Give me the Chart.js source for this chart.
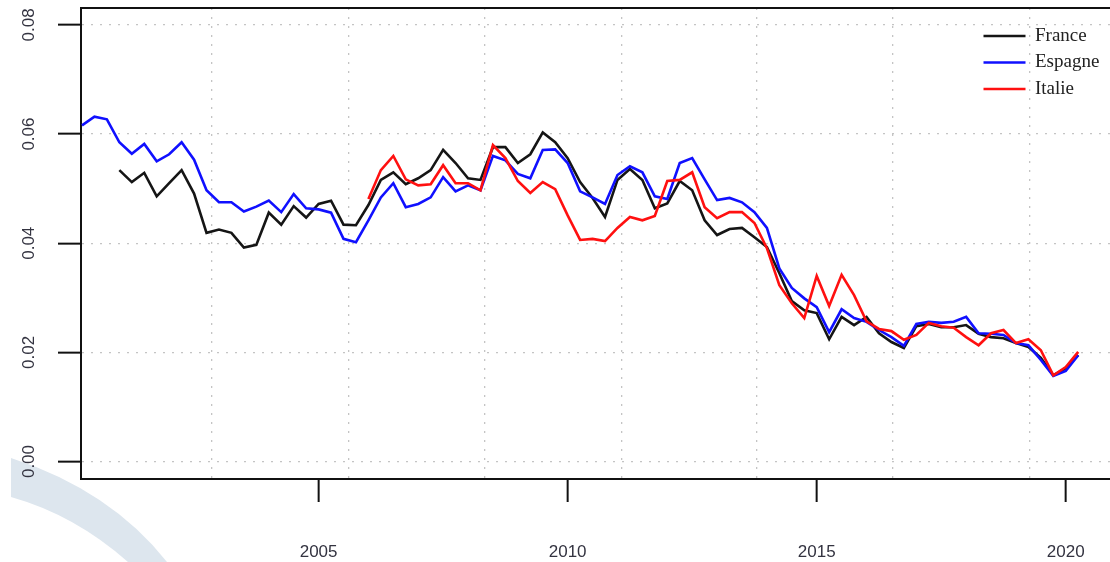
<!DOCTYPE html>
<html>
<head>
<meta charset="utf-8">
<script src="https://cdn.jsdelivr.net/npm/chart.js@4.4.1/dist/chart.umd.min.js"></script>
<style>
  html, body { margin: 0; padding: 0; background: #ffffff; }
  #wrap { width: 1110px; height: 562px; }
</style>
</head>
<body>
<div id="wrap"><canvas id="c" width="1110" height="562"></canvas></div>
<script>
// ---- data (quarterly, decimal years) ----
const dates = [
  2000.25, 2000.5, 2000.75,
  2001, 2001.25, 2001.5, 2001.75,
  2002, 2002.25, 2002.5, 2002.75,
  2003, 2003.25, 2003.5, 2003.75,
  2004, 2004.25, 2004.5, 2004.75,
  2005, 2005.25, 2005.5, 2005.75,
  2006, 2006.25, 2006.5, 2006.75,
  2007, 2007.25, 2007.5, 2007.75,
  2008, 2008.25, 2008.5, 2008.75,
  2009, 2009.25, 2009.5, 2009.75,
  2010, 2010.25, 2010.5, 2010.75,
  2011, 2011.25, 2011.5, 2011.75,
  2012, 2012.25, 2012.5, 2012.75,
  2013, 2013.25, 2013.5, 2013.75,
  2014, 2014.25, 2014.5, 2014.75,
  2015, 2015.25, 2015.5, 2015.75,
  2016, 2016.25, 2016.5, 2016.75,
  2017, 2017.25, 2017.5, 2017.75,
  2018, 2018.25, 2018.5, 2018.75,
  2019, 2019.25, 2019.5, 2019.75,
  2020, 2020.25
];

const france = [
  null, null, null,
  0.0534, 0.0512, 0.0529, 0.0486,
  0.0510, 0.0534, 0.0491, 0.0419,
  0.0425, 0.0419, 0.0392, 0.0397,
  0.0456, 0.0434, 0.0468, 0.0447,
  0.0472, 0.0478, 0.0434, 0.0433,
  0.0470, 0.0516, 0.0530, 0.0508,
  0.0519, 0.0534, 0.0571, 0.0547,
  0.0519, 0.0516, 0.0576, 0.0576,
  0.0547, 0.0563, 0.0603, 0.0585,
  0.0556, 0.0512, 0.0483, 0.0448,
  0.0516, 0.0536, 0.0516, 0.0464,
  0.0473, 0.0514, 0.0497, 0.0442,
  0.0415, 0.0426, 0.0428, 0.0411,
  0.0393, 0.0345, 0.0294, 0.0277,
  0.0272, 0.0224, 0.0265, 0.0250,
  0.0265, 0.0235, 0.0219, 0.0208,
  0.0248, 0.0252, 0.0246, 0.0246,
  0.0250, 0.0234, 0.0228, 0.0226,
  0.0217, 0.0210, 0.0190, 0.0158,
  0.0171, 0.0195
];

const espagne = [
  0.0616, 0.0632, 0.0627,
  0.0585, 0.0564, 0.0582, 0.0550,
  0.0563, 0.0585, 0.0553, 0.0497,
  0.0475, 0.0475, 0.0458, 0.0467,
  0.0478, 0.0457, 0.0490, 0.0464,
  0.0462, 0.0456, 0.0408, 0.0402,
  0.0442, 0.0484, 0.0510, 0.0466,
  0.0472, 0.0484, 0.0521, 0.0495,
  0.0506, 0.0497, 0.0560, 0.0552,
  0.0527, 0.0519, 0.0571, 0.0572,
  0.0547, 0.0495, 0.0484, 0.0472,
  0.0525, 0.0541, 0.0530, 0.0486,
  0.0481, 0.0547, 0.0556, 0.0517,
  0.0479, 0.0483, 0.0475, 0.0457,
  0.0428, 0.0354, 0.0318, 0.0299,
  0.0283, 0.0237, 0.0279, 0.0263,
  0.0256, 0.0241, 0.0228, 0.0212,
  0.0252, 0.0256, 0.0254, 0.0256,
  0.0265, 0.0235, 0.0234, 0.0232,
  0.0217, 0.0213, 0.0186, 0.0157,
  0.0166, 0.0195
];

const italie = [
  null, null, null,
  null, null, null, null,
  null, null, null, null,
  null, null, null, null,
  null, null, null, null,
  null, null, null, null,
  0.0481, 0.0534, 0.0560, 0.0517,
  0.0506, 0.0508, 0.0543, 0.0510,
  0.0510, 0.0497, 0.0580, 0.0556,
  0.0514, 0.0492, 0.0512, 0.0499,
  0.0451, 0.0406, 0.0408, 0.0404,
  0.0428, 0.0448, 0.0442, 0.0450,
  0.0514, 0.0516, 0.0530, 0.0466,
  0.0446, 0.0457, 0.0457, 0.0437,
  0.0391, 0.0323, 0.0290, 0.0263,
  0.0340, 0.0285, 0.0342, 0.0305,
  0.0257, 0.0243, 0.0239, 0.0223,
  0.0232, 0.0254, 0.0248, 0.0245,
  0.0228, 0.0213, 0.0235, 0.0241,
  0.0217, 0.0224, 0.0204, 0.0158,
  0.0173, 0.0201
];

const seriesNames = ['France', 'Espagne', 'Italie'];
const xTickYears = [2005, 2010, 2015, 2020];
const xGridYears = [2002.86, 2005.611, 2008.341, 2011.091, 2013.801, 2016.532, 2019.282];
const yTicks = [0, 0.02, 0.04, 0.06, 0.08];

// ---- styles ----
const axisColor = '#111111';
const gridColor = '#c4c4c4';
const labelColor = '#333340';
const tickFont = { family: "'Liberation Sans Narrow', 'Liberation Sans', Arial, sans-serif", size: 17 };
const legendFont = { family: "'Liberation Serif', 'Times New Roman', serif", size: 19 };

function toPoints(vals) {
  return dates.map((d, i) => ({ x: d, y: vals[i] }));
}

function noScalePadding(scale) {
  scale.paddingLeft = 0;
  scale.paddingRight = 0;
  scale.paddingTop = 0;
  scale.paddingBottom = 0;
}

const watermark = {
  id: 'watermark',
  beforeDraw(chart) {
    const ctx = chart.ctx;
    ctx.save();
    ctx.fillStyle = '#ffffff';
    ctx.fillRect(0, 0, chart.width, chart.height);
    ctx.fillStyle = '#dde6ee';
    ctx.beginPath();
    ctx.moveTo(11, 458);
    ctx.quadraticCurveTo(110, 490, 167, 562);
    ctx.lineTo(128, 562);
    ctx.quadraticCurveTo(75, 515, 11, 497);
    ctx.closePath();
    ctx.fill();
    ctx.restore();
  }
};

const legendPlace = {
  id: 'legendPlace',
  afterLayout(chart) {
    const lg = chart.legend;
    if (!lg) return;
    const w = lg.width, h = lg.height;
    lg.left = 976;
    lg.top = 19;
    lg.right = lg.left + w;
    lg.bottom = lg.top + h;
  }
};

const isYearTick = (c) => c.tick && xTickYears.includes(c.tick.value);

new Chart(document.getElementById('c'), {
  type: 'line',
  data: {
    datasets: [
      { label: seriesNames[0], data: toPoints(france), borderColor: '#151515', backgroundColor: '#151515', borderWidth: 2.6, order: 3 },
      { label: seriesNames[1], data: toPoints(espagne), borderColor: '#1010ff', backgroundColor: '#1010ff', borderWidth: 2.6, order: 2 },
      { label: seriesNames[2], data: toPoints(italie), borderColor: '#ff1010', backgroundColor: '#ff1010', borderWidth: 2.6, order: 1 }
    ]
  },
  options: {
    responsive: false,
    animation: false,
    devicePixelRatio: 1,
    layout: { autoPadding: false, padding: { top: 8, left: 0, right: 0, bottom: 0 } },
    elements: { point: { radius: 0 }, line: { tension: 0, fill: false } },
    plugins: {
      tooltip: { enabled: false },
      legend: {
        position: 'chartArea',
        align: 'start',
        labels: {
          usePointStyle: true,
          pointStyle: 'line',
          pointStyleWidth: 42,
          padding: 7.5,
          color: '#222222',
          font: legendFont,
          sort: (a, b) => a.datasetIndex - b.datasetIndex
        }
      }
    },
    scales: {
      x: {
        type: 'linear',
        position: 'bottom',
        min: 2000.23,
        max: 2020.888,
        afterBuildTicks(scale) {
          scale.ticks = xGridYears.concat(xTickYears).sort((a, b) => a - b).map(v => ({ value: v }));
        },
        afterFit(scale) { scale.height = 83; noScalePadding(scale); },
        ticks: {
          autoSkip: false, maxRotation: 0, minRotation: 0, padding: 40,
          color: labelColor, font: tickFont,
          callback: (v) => xTickYears.includes(v) ? String(v) : ''
        },
        grid: {
          drawOnChartArea: true, drawTicks: true, tickLength: 23,
          lineWidth: 1.3, tickWidth: 2,
          color: (c) => isYearTick(c) ? 'rgba(0,0,0,0)' : gridColor,
          tickColor: (c) => isYearTick(c) ? axisColor : 'rgba(0,0,0,0)'
        },
        border: { display: true, color: axisColor, width: 2, dash: [2, 7] }
      },
      xTop: {
        type: 'linear',
        position: 'top',
        min: 2000.23,
        max: 2020.888,
        afterFit(scale) { scale.height = 0; noScalePadding(scale); },
        ticks: { display: false },
        grid: { display: false, drawTicks: false },
        border: { display: true, color: axisColor, width: 2 }
      },
      y: {
        type: 'linear',
        position: 'left',
        min: -0.0032,
        max: 0.0831,
        afterBuildTicks(scale) { scale.ticks = yTicks.map(v => ({ value: v })); },
        afterFit(scale) { scale.width = 81; noScalePadding(scale); },
        ticks: {
          autoSkip: false, minRotation: 90, maxRotation: 90, crossAlign: 'center', padding: 12,
          color: labelColor, font: tickFont,
          callback: (v) => Number(v).toFixed(2)
        },
        grid: { color: gridColor, lineWidth: 1.3, tickLength: 23, tickWidth: 2, tickColor: axisColor },
        border: { display: true, color: axisColor, width: 2, dash: [2, 7] }
      }
    }
  },
  plugins: [watermark, legendPlace]
});
</script>
</body>
</html>
